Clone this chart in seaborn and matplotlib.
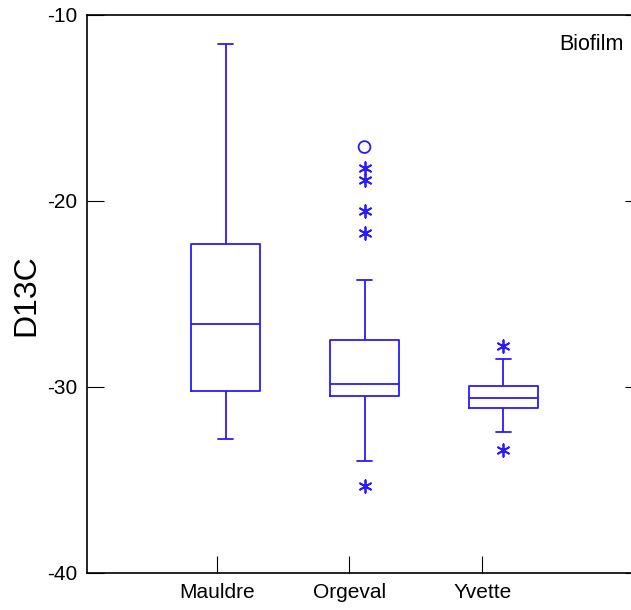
import numpy as np
import pandas as pd
import matplotlib
matplotlib.use("Agg")
import matplotlib.pyplot as plt
import seaborn as sns

# five-number summaries
sites = ["Mauldre", "Orgeval", "Yvette"]
whisker_lo = [-32.8, -34.0, -32.4]
q1 = [-30.2, -30.5, -31.15]
median = [-26.6, -29.85, -30.6]
q3 = [-22.3, -27.45, -29.95]
whisker_hi = [-11.55, -24.25, -28.5]

# outside values (asterisks) and far outside values (circles)
out_site = ["Orgeval", "Orgeval", "Orgeval", "Orgeval", "Orgeval", "Yvette", "Yvette"]
out_val = [-18.2, -18.85, -20.55, -21.7, -35.3, -27.8, -33.4]
far_site = ["Orgeval"]
far_val = [-17.1]

blue = "#2a1aff"

rows = []
for i, s in enumerate(sites):
    for v in (whisker_lo[i], q1[i], median[i], q3[i], whisker_hi[i]):
        rows.append({"site": s, "D13C": v})
box = pd.DataFrame(rows)
outs = pd.DataFrame({"site": out_site, "D13C": out_val})
fars = pd.DataFrame({"site": far_site, "D13C": far_val})

sns.set_style("ticks")
plt.rcParams["font.family"] = ["Liberation Sans", "DejaVu Sans"]
plt.rcParams["axes.unicode_minus"] = False

fig = plt.figure(figsize=(6.31, 6.10), dpi=100)
ax = fig.add_axes([87 / 631, 37 / 610, 555 / 631, 558 / 610])

sns.boxplot(data=box, x="site", y="D13C", order=sites, whis=np.inf, width=0.5,
            fill=False, color=blue, linewidth=1.3, showfliers=False,
            capwidths=0.105, ax=ax)
sns.stripplot(data=outs, x="site", y="D13C", order=sites, jitter=False,
              marker=(6, 2, 0), color=blue, linewidth=1.3, size=9, ax=ax)
sns.stripplot(data=fars, x="site", y="D13C", order=sites, jitter=False,
              marker="o", facecolors="none", edgecolor=blue, linewidth=1.3,
              size=8.5, ax=ax)

ax.set_xlim(-1, 3)
ax.set_ylim(-40, -10)
ax.set_yticks([-40, -30, -20, -10])
ax.set_xticks([-0.06, 0.89, 1.85])
ax.set_xticklabels(sites)
ax.set_xlabel("")
ax.set_ylabel("D13C", fontsize=23, color="black")
ax.yaxis.set_label_coords(-0.082, 0.498)
ax.tick_params(axis="both", direction="in", length=12, width=0.8,
               labelsize=15, color="black", labelcolor="black")
ax.tick_params(axis="y", right=True, pad=7)
ax.tick_params(axis="x", pad=7)
ax.spines["right"].set_visible(False)
for sp in ("left", "top", "bottom"):
    ax.spines[sp].set_linewidth(1.2)
    ax.spines[sp].set_color("black")

ax.text(0.966, 0.948, "Biofilm", transform=ax.transAxes, ha="right",
        va="center", fontsize=15.5, color="black")

fig.savefig("out.png", dpi=100)
